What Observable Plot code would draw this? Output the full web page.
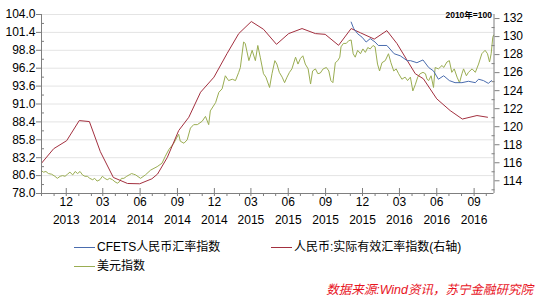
<!DOCTYPE html>
<html><head><meta charset="utf-8">
<script src="https://cdn.jsdelivr.net/npm/d3@7"></script>
<script src="https://cdn.jsdelivr.net/npm/@observablehq/plot@0.6"></script>
<style>
body{margin:0;background:#fff;}
#wrap{position:relative;width:536px;height:298px;overflow:hidden;font-family:"Liberation Sans","Noto Sans CJK SC",sans-serif;}
#wrap svg{position:absolute;left:0;top:0;}
.leg{position:absolute;font-size:12px;color:#000;white-space:nowrap;line-height:14px;font-family:"Liberation Sans","Noto Sans CJK SC",sans-serif;}
.sw{position:absolute;height:1px;width:21px;}
#src{position:absolute;right:3px;top:279px;font-size:12.5px;color:#e8141e;font-style:italic;white-space:nowrap;font-family:"Liberation Sans","Noto Sans CJK SC",sans-serif;}
#base{position:absolute;right:44px;top:8px;font-size:8.5px;color:#000;font-weight:bold;white-space:nowrap;font-family:"Liberation Sans","Noto Sans CJK SC",sans-serif;}
</style></head><body><div id="wrap"></div>
<script>
// ---- data ----
const seriesNames = ["CFETS人民币汇率指数", "人民币:实际有效汇率指数(右轴)", "美元指数"];
const leftTickLabels = ["78.0","80.6","83.2","85.8","88.4","91.0","93.6","96.2","98.8","101.4","104.0"];
const rightTickLabels = ["114","116","118","120","122","124","126","128","130","132"];
const xDomain = ["2013-10-01", "2016-10-20"];
const rightDomain = [112.59, 132.45];

const usdDates = ["2013-10-01","2013-10-06","2013-10-12","2013-10-18","2013-10-26","2013-11-03","2013-11-09","2013-11-16","2013-11-22","2013-11-28","2013-12-04","2013-12-10","2013-12-17","2013-12-23","2013-12-29","2014-01-04","2014-01-10","2014-01-16","2014-01-22","2014-01-28","2014-02-04","2014-02-09","2014-02-15","2014-02-22","2014-02-28","2014-03-06","2014-03-12","2014-03-18","2014-03-25","2014-03-31","2014-04-06","2014-04-11","2014-04-16","2014-04-22","2014-04-29","2014-05-05","2014-05-11","2014-05-16","2014-05-21","2014-06-02","2014-06-14","2014-06-27","2014-07-13","2014-07-25","2014-08-02","2014-08-11","2014-08-23","2014-08-31","2014-09-04","2014-09-08","2014-09-17","2014-09-25","2014-10-03","2014-10-11","2014-10-20","2014-11-01","2014-11-09","2014-11-17","2014-11-21","2014-12-04","2014-12-12","2014-12-20","2014-12-28","2015-01-05","2015-01-14","2015-01-22","2015-01-30","2015-02-03","2015-02-11","2015-02-15","2015-02-24","2015-03-04","2015-03-12","2015-03-18","2015-03-24","2015-04-01","2015-04-07","2015-04-16","2015-04-22","2015-04-29","2015-05-04","2015-05-10","2015-05-17","2015-05-23","2015-05-29","2015-06-04","2015-06-10","2015-06-19","2015-06-25","2015-07-01","2015-07-07","2015-07-13","2015-07-20","2015-07-26","2015-07-31","2015-08-07","2015-08-13","2015-08-19","2015-08-26","2015-09-03","2015-09-09","2015-09-14","2015-09-19","2015-09-25","2015-10-01","2015-10-06","2015-10-09","2015-10-15","2015-10-22","2015-10-28","2015-11-03","2015-11-08","2015-11-13","2015-11-19","2015-11-26","2015-12-02","2015-12-08","2015-12-14","2015-12-20","2015-12-27","2016-01-01","2016-01-07","2016-01-12","2016-01-18","2016-01-26","2016-02-03","2016-02-09","2016-02-16","2016-02-22","2016-02-28","2016-03-07","2016-03-15","2016-03-21","2016-03-28","2016-04-03","2016-04-09","2016-04-15","2016-04-21","2016-04-28","2016-05-04","2016-05-08","2016-05-12","2016-05-18","2016-05-24","2016-05-28","2016-06-05","2016-06-14","2016-06-18","2016-06-26","2016-07-02","2016-07-08","2016-07-14","2016-07-21","2016-07-27","2016-08-02","2016-08-06","2016-08-13","2016-08-18","2016-08-27","2016-09-04","2016-09-12","2016-09-20","2016-09-28","2016-10-04","2016-10-09","2016-10-13","2016-10-17","2016-10-19"];
const usdValues = [81.3,81.1,81.2,80.9,80.8,80.5,80.2,80.5,80.6,80.5,80.8,81.1,80.7,81.2,80.9,81.2,80.7,80.5,80.5,80.2,80.0,80.2,79.8,80.0,80.5,80.2,80.0,80.2,80.0,79.7,79.5,79.7,80.2,80.2,80.5,80.7,80.9,80.8,80.7,80.2,80.7,81.4,81.9,82.4,83.4,84.4,85.3,86.2,86.6,85.6,85.3,85.8,87.5,88.0,88.0,88.5,89.2,88.0,90.0,91.2,92.7,93.2,95.1,94.4,94.6,94.4,95.6,96.3,100.0,99.8,97.3,98.8,97.3,99.5,97.8,95.4,94.9,93.4,95.4,97.3,96.8,95.6,94.9,94.1,94.9,95.6,96.1,97.8,96.8,97.6,98.0,96.8,96.1,93.9,95.8,96.1,95.4,95.5,96.1,96.3,95.8,94.4,94.1,97.0,97.3,97.8,99.3,99.8,99.8,100.2,100.3,98.3,97.8,98.8,98.3,99.0,98.5,99.2,99.0,99.5,99.3,96.8,95.8,97.0,97.3,98.3,97.0,95.8,96.1,95.4,94.6,94.9,94.4,94.9,92.9,93.8,94.9,95.4,95.6,95.4,94.6,94.4,95.1,93.4,96.3,96.1,96.6,96.3,97.1,97.3,95.6,96.1,94.9,94.1,95.4,96.1,95.1,95.6,96.1,95.6,96.8,98.3,98.8,98.3,97.1,98.3,100.7,101.0];

const cfetsDates = ["2015-11-03","2015-11-09","2015-11-19","2015-11-30","2015-12-10","2015-12-20","2016-01-01","2016-01-09","2016-01-30","2016-02-17","2016-03-03","2016-03-20","2016-03-28","2016-04-13","2016-04-28","2016-05-12","2016-05-24","2016-06-05","2016-06-18","2016-07-02","2016-07-16","2016-08-02","2016-08-18","2016-09-04","2016-09-12","2016-09-24","2016-10-06","2016-10-14"];
const cfetsValues = [102.9,102.0,101.2,100.7,100.0,100.5,100.0,99.5,99.5,98.3,98.0,97.3,97.3,97.0,97.4,96.3,95.8,94.6,95.1,94.4,94.1,94.1,94.3,94.1,94.6,94.4,94.0,94.4];

const reerDates = ["2013-10-02","2013-10-31","2013-12-02","2014-01-02","2014-01-27","2014-02-23","2014-03-27","2014-05-01","2014-05-31","2014-06-30","2014-07-14","2014-08-07","2014-09-04","2014-09-29","2014-10-28","2014-11-30","2015-01-01","2015-01-30","2015-03-02","2015-04-01","2015-05-03","2015-06-02","2015-07-05","2015-08-07","2015-08-31","2015-10-03","2015-11-03","2015-11-26","2015-12-30","2016-01-30","2016-02-24","2016-03-20","2016-04-09","2016-04-29","2016-06-01","2016-07-04","2016-08-03","2016-09-08","2016-10-04"];
const reerValues = [116.0,117.56,118.45,120.68,120.57,117.23,114.37,113.70,113.67,114.22,114.75,116.59,119.57,121.05,123.83,125.5,128.1,130.33,131.67,130.81,129.14,130.33,130.89,130.33,130.25,129.03,130.89,130.42,129.72,130.66,129.22,127.36,125.88,125.32,123.09,121.79,120.85,121.24,121.05];

const colors = {cfets: "#4a6cae", reer: "#a3303f", usd: "#9aad52"};

// ---- build ----
const parse = d3.utcParse("%Y-%m-%d");
const leftTicks = leftTickLabels.map(Number);
const yDomain = [leftTicks[0], leftTicks[leftTicks.length - 1]];
const toLeft = r => yDomain[0] + (r - rightDomain[0]) / (rightDomain[1] - rightDomain[0]) * (yDomain[1] - yDomain[0]);
const fromLeft = v => rightDomain[0] + (v - yDomain[0]) / (yDomain[1] - yDomain[0]) * (rightDomain[1] - rightDomain[0]);
const rightTicks = rightTickLabels.map(Number);
const leftMinor = d3.pairs(leftTicks).map(([a, b]) => (a + b) / 2);
const rightMinor = d3.range(113, 132.5, 2);

const usd = usdDates.map((d, i) => ({date: parse(d), v: usdValues[i]}));
const cfets = cfetsDates.map((d, i) => ({date: parse(d), v: cfetsValues[i]}));
const reer = reerDates.map((d, i) => ({date: parse(d), v: toLeft(reerValues[i])}));

const x0 = parse(xDomain[0]), x1 = parse(xDomain[1]);
const months = d3.utcMonth.range(x0, x1);
const quarters = months.filter(d => d.getUTCMonth() % 3 === 2);
const fmt = d => `${String(d.getUTCMonth() + 1).padStart(2, "0")}\n${d.getUTCFullYear()}`;

const axisColor = "#7f7f7f";
const chart = Plot.plot({
  width: 536, height: 244,
  marginLeft: 41, marginRight: 42.5, marginTop: 14, marginBottom: 51,
  style: {fontSize: "12px", fontFamily: "'Liberation Sans', Arial, sans-serif", color: "#000", background: "transparent"},
  x: {type: "utc", domain: [x0, x1], label: null},
  y: {domain: yDomain, label: null},
  marks: [
    Plot.ruleY(leftTicks.slice(1), {stroke: "#e4e4e4", strokeWidth: 1}),
    Plot.line(usd, {x: "date", y: "v", stroke: colors.usd, strokeWidth: 1}),
    Plot.line(reer, {x: "date", y: "v", stroke: colors.reer, strokeWidth: 1}),
    Plot.line(cfets, {x: "date", y: "v", stroke: colors.cfets, strokeWidth: 1}),
    Plot.ruleX([x0], {stroke: axisColor}),
    Plot.ruleX([x1], {stroke: axisColor}),
    Plot.ruleY([yDomain[0]], {stroke: axisColor}),
    Plot.axisY({ticks: leftTicks, tickSize: 5, tickPadding: 1, tickFormat: d => d.toFixed(1), stroke: axisColor, fill: "#000", label: null}),
    Plot.axisY({ticks: leftMinor, tickSize: -3, tickFormat: () => "", stroke: axisColor, label: null}),
    Plot.axisY({anchor: "right", ticks: rightTicks.map(toLeft), tickSize: 5, tickPadding: 4, tickFormat: v => String(Math.round(fromLeft(v))), stroke: axisColor, fill: "#000", label: null}),
    Plot.axisY({anchor: "right", ticks: rightMinor.map(toLeft), tickSize: -3, tickFormat: () => "", stroke: axisColor, label: null}),
    Plot.axisX({ticks: months, tickSize: 3, tickFormat: () => "", stroke: axisColor, label: null}),
    Plot.axisX({ticks: quarters, tickSize: 5, tickPadding: 0, dy: -5, tickFormat: fmt, lineHeight: 1.5, stroke: axisColor, fill: "#000", label: null})
  ]
});
const wrap = document.getElementById("wrap");
wrap.appendChild(chart);

const legendItems = [
  {name: seriesNames[0], color: colors.cfets, x: 74, y: 247},
  {name: seriesNames[1], color: colors.reer, x: 271, y: 247},
  {name: seriesNames[2], color: colors.usd, x: 74, y: 266}
];
for (const it of legendItems) {
  const sw = document.createElement("div");
  sw.className = "sw";
  sw.style.left = it.x + "px"; sw.style.top = it.y + "px"; sw.style.backgroundColor = it.color;
  wrap.appendChild(sw);
  const t = document.createElement("div");
  t.className = "leg";
  t.style.left = (it.x + 23) + "px"; t.style.top = (it.y - 7) + "px";
  t.textContent = it.name;
  wrap.appendChild(t);
}
const src = document.createElement("div");
src.id = "src"; src.textContent = "数据来源:Wind资讯，苏宁金融研究院";
wrap.appendChild(src);
const base = document.createElement("div");
base.id = "base"; base.textContent = "2010年=100";
wrap.appendChild(base);
</script></body></html>
